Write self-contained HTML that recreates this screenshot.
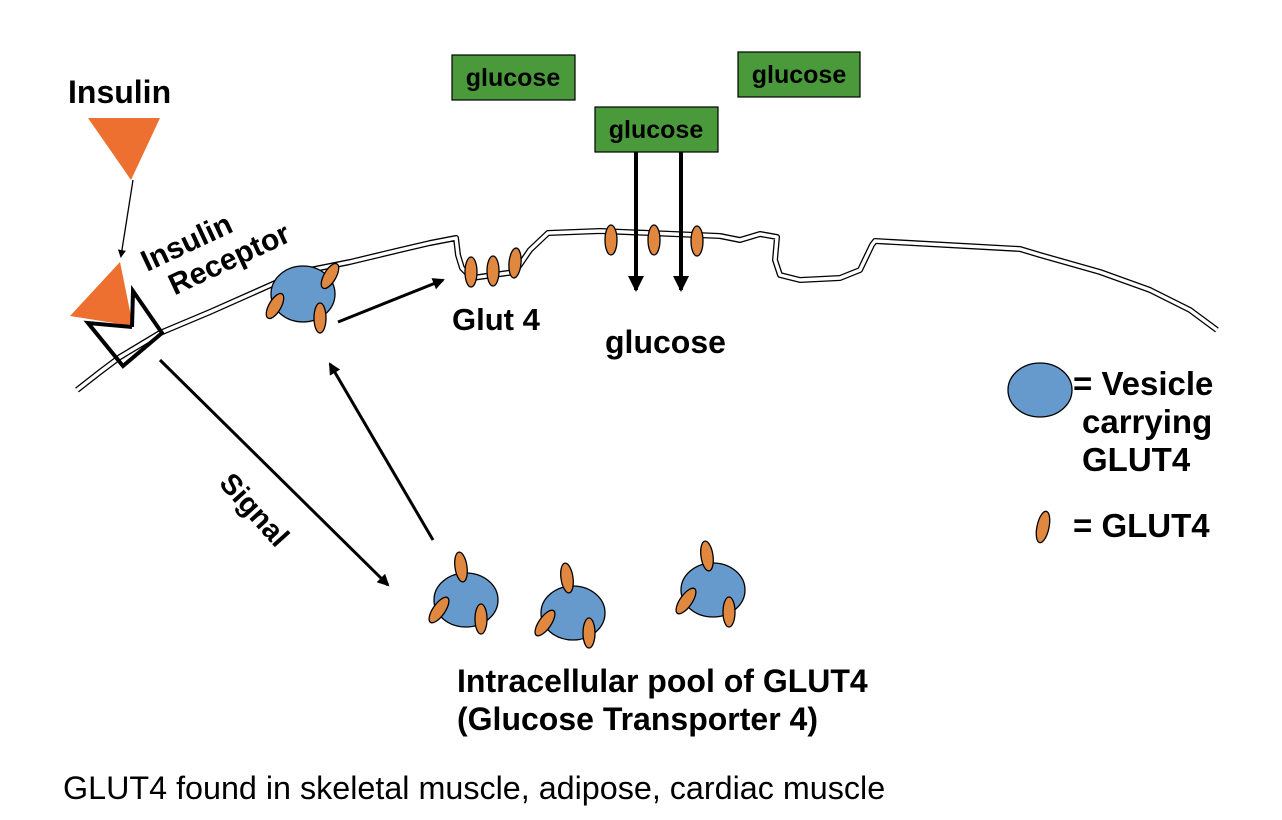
<!DOCTYPE html>
<html><head><style>body{margin:0;background:#fff}svg{display:block}text{font-family:"Liberation Sans",Arial,sans-serif}</style></head><body>
<svg width="1282" height="820" viewBox="0 0 1282 820" xmlns="http://www.w3.org/2000/svg">
<defs>
<marker id="ah" markerWidth="8" markerHeight="8" refX="6" refY="4" orient="auto" markerUnits="userSpaceOnUse"><path d="M0,0 L8,4 L0,8z" fill="#000"/></marker>
<marker id="ab" markerWidth="16" markerHeight="16" refX="14" refY="8" orient="auto" markerUnits="userSpaceOnUse"><path d="M0,0 L16,8 L0,16z" fill="#000"/></marker>
<marker id="am" markerWidth="12" markerHeight="12" refX="10" refY="6" orient="auto" markerUnits="userSpaceOnUse"><path d="M0,0 L12,6 L0,12z" fill="#000"/></marker>
</defs>
<g fill="none" stroke-linejoin="round">
<path d="M77,390 L100,372 L120,357 L160,333 L210,312 L255,292 L300,272 L350,262 L400,250 L430,243 L456,238 L458,255 L462,268 L472,278 L515,272 L530,250 L548,233 L600,231 L650,233 L720,236 L740,240 L760,234 L777,237 L775,260 L780,275 L800,280 L840,278 L860,270 L872,245 L875,241 L1020,249 L1040,255 L1100,272 L1150,290 L1190,310 L1217,330" stroke="#000" stroke-width="6"/>
<path d="M77,390 L100,372 L120,357 L160,333 L210,312 L255,292 L300,272 L350,262 L400,250 L430,243 L456,238 L458,255 L462,268 L472,278 L515,272 L530,250 L548,233 L600,231 L650,233 L720,236 L740,240 L760,234 L777,237 L775,260 L780,275 L800,280 L840,278 L860,270 L872,245 L875,241 L1020,249 L1040,255 L1100,272 L1150,290 L1190,310 L1217,330" stroke="#fff" stroke-width="3.4"/>
</g>
<polygon points="70,316 120,262 133,326" fill="#ed7030"/>
<polyline points="132,327 133,291 162,333 123,366 88,323 132,327" fill="none" stroke="#000" stroke-width="4"/>
<line x1="133" y1="180" x2="121" y2="256" stroke="#000" stroke-width="1.3" marker-end="url(#ah)"/>
<polygon points="88,118 160,118 131,180" fill="#ed7030"/>
<text x="68" y="103" font-size="32" font-weight="bold">Insulin</text>
<g transform="translate(147,272) rotate(-25)"><text font-size="30" font-weight="bold">Insulin</text><text x="15" y="33" font-size="30" font-weight="bold">Receptor</text></g>
<g stroke="#000" stroke-width="1.2">
<rect x="452" y="55" width="123" height="45" fill="#4a9a3c"/>
<rect x="738" y="52" width="122" height="45" fill="#4a9a3c"/>
<rect x="595" y="107" width="123" height="45" fill="#4a9a3c"/>
</g>
<g font-size="25" font-weight="bold" text-anchor="middle"><text x="513" y="86">glucose</text><text x="799" y="83">glucose</text><text x="656" y="138">glucose</text></g>
<line x1="636" y1="152" x2="636" y2="290" stroke="#000" stroke-width="4" marker-end="url(#ab)"/>
<line x1="681" y1="152" x2="681" y2="290" stroke="#000" stroke-width="4" marker-end="url(#ab)"/>
<g stroke="#000" stroke-width="3">
<line x1="338" y1="322" x2="443" y2="280" marker-end="url(#am)"/>
<line x1="433" y1="540" x2="330" y2="364" marker-end="url(#am)"/>
<line x1="160" y1="360" x2="388" y2="585" marker-end="url(#am)"/>
</g>
<g stroke="#000" stroke-width="1.3">
<ellipse cx="303" cy="294" rx="32" ry="28" fill="#6699cc"/>
<ellipse cx="466" cy="600" rx="32" ry="27" fill="#6699cc"/>
<ellipse cx="573" cy="613" rx="32" ry="27" fill="#6699cc"/>
<ellipse cx="713" cy="590" rx="32" ry="27" fill="#6699cc"/>
<ellipse cx="1040" cy="390" rx="32" ry="27" fill="#6699cc"/>
<g fill="#e08840">
<ellipse cx="330" cy="276" rx="6" ry="14" transform="rotate(30 330 276)"/>
<ellipse cx="275" cy="306" rx="6" ry="14" transform="rotate(30 275 306)"/>
<ellipse cx="320" cy="318" rx="6" ry="15"/>
<ellipse cx="471" cy="272" rx="6" ry="15"/>
<ellipse cx="493" cy="271" rx="6" ry="15"/>
<ellipse cx="515" cy="263" rx="6" ry="15" transform="rotate(5 515 263)"/>
<ellipse cx="611" cy="240" rx="6" ry="15"/>
<ellipse cx="654" cy="240" rx="6" ry="15"/>
<ellipse cx="697" cy="241" rx="6" ry="15"/>
<ellipse cx="461" cy="567" rx="6" ry="15" transform="rotate(-8 461 567)"/>
<ellipse cx="439" cy="610" rx="6" ry="15" transform="rotate(35 439 610)"/>
<ellipse cx="481" cy="619" rx="6" ry="15"/>
<ellipse cx="567" cy="578" rx="6" ry="15" transform="rotate(-8 567 578)"/>
<ellipse cx="545" cy="623" rx="6" ry="15" transform="rotate(35 545 623)"/>
<ellipse cx="589" cy="633" rx="6" ry="15"/>
<ellipse cx="707" cy="556" rx="6" ry="15" transform="rotate(-8 707 556)"/>
<ellipse cx="686" cy="601" rx="6" ry="15" transform="rotate(35 686 601)"/>
<ellipse cx="729" cy="612" rx="6" ry="15"/>
<ellipse cx="1043" cy="527" rx="6" ry="16" transform="rotate(12 1043 527)"/>
</g></g>
<g font-weight="bold">
<text x="452" y="330" font-size="31">Glut 4</text>
<text x="605" y="353" font-size="32">glucose</text>
<text transform="translate(218,484) rotate(48)" font-size="29">Signal</text>
<text x="1073" y="395" font-size="33">= Vesicle</text>
<text x="1082" y="433" font-size="33">carrying</text>
<text x="1082" y="471" font-size="33">GLUT4</text>
<text x="1073" y="537" font-size="33">= GLUT4</text>
<text x="457" y="692" font-size="32">Intracellular pool of GLUT4</text>
<text x="457" y="730" font-size="32">(Glucose Transporter 4)</text>
</g>
<text x="63" y="799" font-size="32.3">GLUT4 found in skeletal muscle, adipose, cardiac muscle</text>
</svg>
</body></html>
